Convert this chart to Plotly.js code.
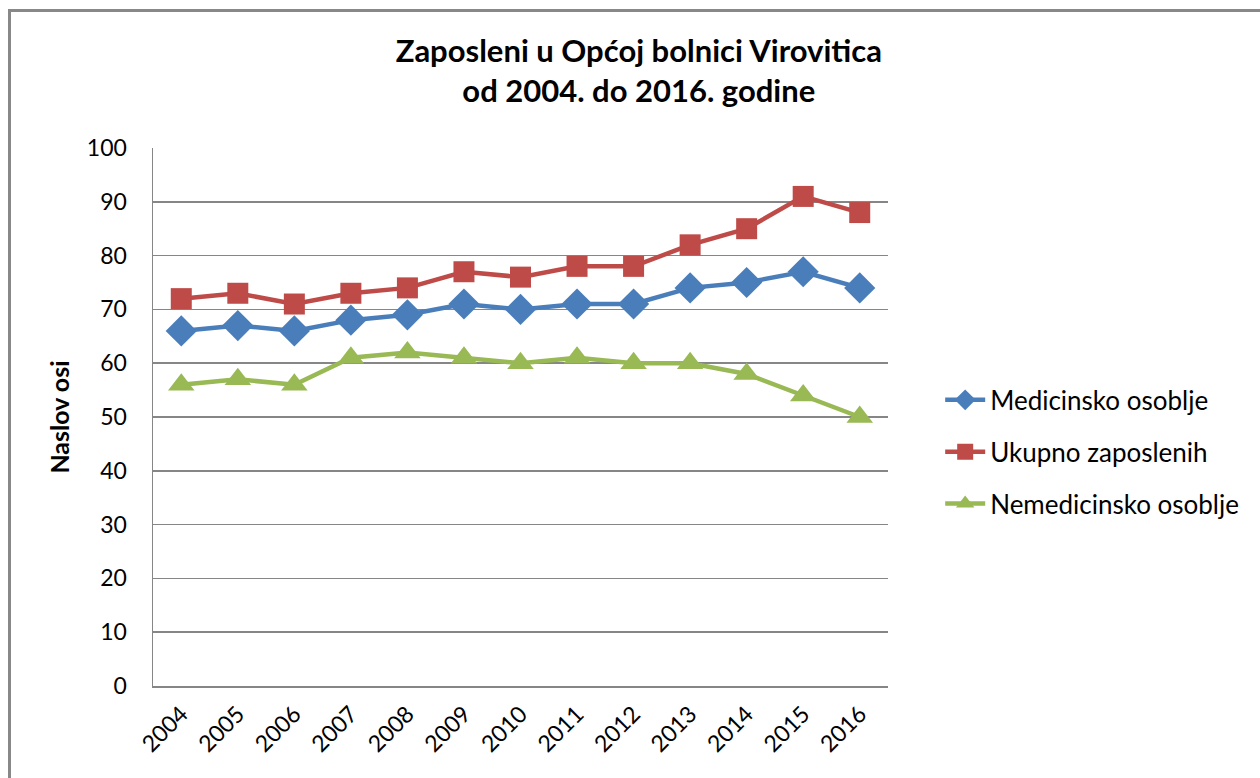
<!DOCTYPE html>
<html>
<head>
<meta charset="utf-8">
<script src="https://cdn.plot.ly/plotly-3.0.1.min.js"></script>
<style>
  html, body { margin: 0; padding: 0; background: #fff; overflow: hidden; }
  #frame { position: absolute; left: 8px; top: 9px; width: 1300px; height: 820px; border: 3px solid #888; box-sizing: border-box; pointer-events: none; z-index: 5; }
  #chart { position: absolute; left: 0; top: 0; width: 1260px; height: 778px; }
</style>
</head>
<body>
<div id="chart"></div>
<div id="frame"></div>
<script>
const years = ['2004','2005','2006','2007','2008','2009','2010','2011','2012','2013','2014','2015','2016'];
const medicinsko = [66, 67, 66, 68, 69, 71, 70, 71, 71, 74, 75, 77, 74];
const ukupno = [72, 73, 71, 73, 74, 77, 76, 78, 78, 82, 85, 91, 88];
const nemedicinsko = [56, 57, 56, 61, 62, 61, 60, 61, 60, 60, 58, 54, 50];
const seriesNames = ['Medicinsko osoblje', 'Ukupno zaposlenih', 'Nemedicinsko osoblje'];
const yTicks = [0, 10, 20, 30, 40, 50, 60, 70, 80, 90, 100];

const traces = [
  { x: years, y: medicinsko, name: seriesNames[0], legendgroup: 'a', type: 'scatter', mode: 'lines+markers',
    line: { color: '#4A7EBB', width: 4.5 }, marker: { symbol: 'diamond', size: 24, color: '#4A7EBB' } },
  { x: years, y: ukupno, name: seriesNames[1], legendgroup: 'b', type: 'scatter', mode: 'lines+markers',
    line: { color: '#BE4B48', width: 4.5 }, marker: { symbol: 'square', size: 21, color: '#BE4B48' } },
  { x: years, y: nemedicinsko, name: seriesNames[2], legendgroup: 'c', type: 'scatter', mode: 'lines+markers',
    line: { color: '#98B954', width: 4.5 }, marker: { symbol: 'triangle-up', size: 23, color: '#98B954' } }
];

const layout = {
  width: 1260, height: 778,
  margin: { l: 153, r: 372, t: 148, b: 92 },
  paper_bgcolor: '#fff', plot_bgcolor: '#fff',
  font: { family: 'Lato, "Open Sans", sans-serif', color: '#000' },
  title: {
    text: '<b>Zaposleni u Općoj bolnici Virovitica<br>od 2004. do 2016. godine</b>',
    font: { size: 31, family: 'Lato, sans-serif', color: '#000' },
    xref: 'container', x: 0.507, xanchor: 'center',
    yref: 'container', y: 1 - 62/778, yanchor: 'top'
  },
  xaxis: {
    type: 'category', range: [-0.5, 12.5], tickangle: -45,
    tickfont: { size: 23, color: '#000' },
    showgrid: false, showline: true, linecolor: '#868686', linewidth: 1.5,
    ticks: '', ticklabelstandoff: 4, fixedrange: true
  },
  yaxis: {
    range: [0, 100], tickvals: yTicks, ticktext: yTicks.map(String),
    tickfont: { size: 23, color: '#000' },
    showgrid: true, gridcolor: '#868686', gridwidth: 1.5,
    showline: true, linecolor: '#868686', linewidth: 1.5, zeroline: false,
    ticks: '', ticklabelstandoff: 20,
    title: { text: '<b>Naslov osi</b>', font: { size: 25, color: '#000' }, standoff: 10 },
    fixedrange: true
  },
  showlegend: true,
  legend: {
    x: 1.071, xanchor: 'left', y: 0.435, yanchor: 'middle',
    font: { size: 26, color: '#000' }, traceorder: 'grouped', tracegroupgap: 15,
    bgcolor: 'rgba(0,0,0,0)', itemwidth: 40
  }
};

Plotly.newPlot('chart', traces, layout, { staticPlot: true });
</script>
</body>
</html>
